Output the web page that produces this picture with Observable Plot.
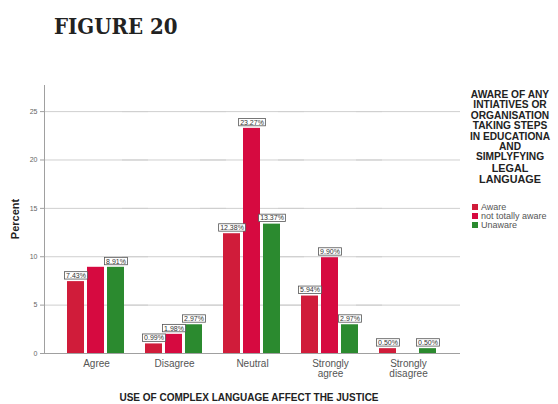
<!DOCTYPE html>
<html><head><meta charset="utf-8">
<script src="https://cdn.jsdelivr.net/npm/d3@7"></script>
<script src="https://cdn.jsdelivr.net/npm/@observablehq/plot@0.6"></script>
<style>
body{margin:0;background:#fff;font-family:"Liberation Sans",Arial,sans-serif;}
#wrap{position:relative;width:558px;height:404px;overflow:hidden;background:#fff}
#title{position:absolute;left:54px;top:15px;font-family:"DejaVu Serif Condensed","DejaVu Serif",serif;font-weight:bold;font-size:22px;line-height:1;color:#222;white-space:nowrap}
#chart{position:absolute;left:0;top:50px}
#ylab{position:absolute;left:15px;top:219px;transform:translate(-50%,-50%) rotate(-90deg);font-weight:bold;font-size:11px;color:#222;white-space:nowrap}
#xlab{position:absolute;left:249px;top:397px;transform:translate(-50%,-50%);font-weight:bold;font-size:10px;color:#222;white-space:nowrap}
#legtitle{position:absolute;left:510px;top:90px;transform:translateX(-50%);font-weight:bold;font-size:10.2px;line-height:10.4px;text-align:center;color:#222;white-space:nowrap}
#legtitle .big{font-size:10.8px}
#legitems{position:absolute;left:472px;top:203px;font-size:9px;color:#555}
.li{display:flex;align-items:center;height:8.7px;white-space:nowrap}
.sw{width:6px;height:6px;margin-right:3px;flex:none}
</style></head><body>
<div id="wrap">
<div id="title">FIGURE 20</div>
<div id="chart"></div>
<div id="ylab">Percent</div>
<div id="xlab">USE OF COMPLEX LANGUAGE AFFECT THE JUSTICE</div>
<div id="legtitle"></div>
<div id="legitems"></div>
</div>
<script>
const categories = ["Agree", "Disagree", "Neutral", "Strongly agree", "Strongly disagree"];
const series = ["Aware", "not totally aware", "Unaware"];
const aware = [7.43, 0.99, 12.38, 5.94, 0.50];
const notTotallyAware = [8.91, 1.98, 23.27, 9.90, 0];
const unaware = [8.91, 2.97, 13.37, 2.97, 0.50];
const yTicks = [0, 5, 10, 15, 20, 25];
const colors = ["#d01c3a", "#d60a40", "#2b8a2f"];
const hiddenLabels = [["Agree", "not totally aware"]];
const legendTitleLines = ["AWARE OF ANY", "INTIATIVES OR", "ORGANISATION", "TAKING STEPS", "IN EDUCATIONA", "AND", "SIMPLYFYING", "LEGAL", "LANGUAGE"];

const valuesBySeries = [aware, notTotallyAware, unaware];
const data = [];
categories.forEach((c, i) => series.forEach((s, j) => data.push({cat: c, series: s, value: valuesBySeries[j][i]})));
const labels = data.filter(d => d.value > 0 && !hiddenLabels.some(h => h[0] === d.cat && h[1] === d.series));

const plot = Plot.plot({
  width: 558, height: 354,
  marginTop: 35, marginBottom: 51, marginLeft: 57, marginRight: 111,
  style: {fontFamily: '"Liberation Sans", Arial, sans-serif', fontSize: "7px", color: "#555", background: "transparent"},
  fx: {domain: categories, padding: 0, label: null},
  x: {domain: series, paddingInner: 0.14, paddingOuter: 0.43, axis: null},
  y: {domain: [0, 27.7], label: null},
  color: {domain: series, range: colors},
  marks: [
    Plot.gridY(yTicks.filter(t => t > 0), {stroke: "#cfcfcf", strokeOpacity: 1, insetLeft: -13, insetRight: -13}),
    Plot.barY(data, {fx: "cat", x: "series", y: "value", fill: "series"}),
    Plot.ruleY([0], {stroke: "#a0a0a0", insetLeft: -13, insetRight: -13}),
    Plot.frame({anchor: "left", facetAnchor: "left", dx: -13, stroke: "#a0a0a0"}),
    Plot.axisY(yTicks, {dx: -13, tickSize: 4, tickPadding: 3, label: null, stroke: "#a0a0a0", fill: "#666", fontSize: 7}),
    Plot.axisFx({anchor: "bottom", tickSize: 0, tickPadding: 6, fontSize: 10, fill: "#555", label: null, lineHeight: 1.0, tickFormat: d => d.replace(" ", "\n")}),
    Plot.text(labels, {fx: "cat", x: "series", y: "value", text: d => d.value.toFixed(2) + "%", dy: -6, fontSize: 7, fill: "#333"})
  ]
});
document.getElementById("chart").appendChild(plot);

// boxes behind value labels
plot.querySelectorAll('g[aria-label="text"] text').forEach(t => {
  const b = t.getBBox();
  const r = document.createElementNS("http://www.w3.org/2000/svg", "rect");
  r.setAttribute("x", b.x - 1.5);
  r.setAttribute("y", b.y - 0.2);
  r.setAttribute("width", b.width + 3);
  r.setAttribute("height", b.height + 0.4);
  r.setAttribute("fill", "#fff");
  r.setAttribute("stroke", "#555");
  r.setAttribute("stroke-width", "0.8");
  if (t.getAttribute("transform")) r.setAttribute("transform", t.getAttribute("transform"));
  t.parentNode.insertBefore(r, t);
});

// legend
const lt = document.getElementById("legtitle");
lt.innerHTML = legendTitleLines.map((l, i) => i >= 7 ? `<span class="big">${l}</span>` : l).join("<br>");
const li = document.getElementById("legitems");
series.forEach((s, i) => {
  const row = document.createElement("div");
  row.className = "li";
  row.innerHTML = `<span class="sw" style="background:${colors[i]}"></span>${s}`;
  li.appendChild(row);
});
</script>
</body></html>
